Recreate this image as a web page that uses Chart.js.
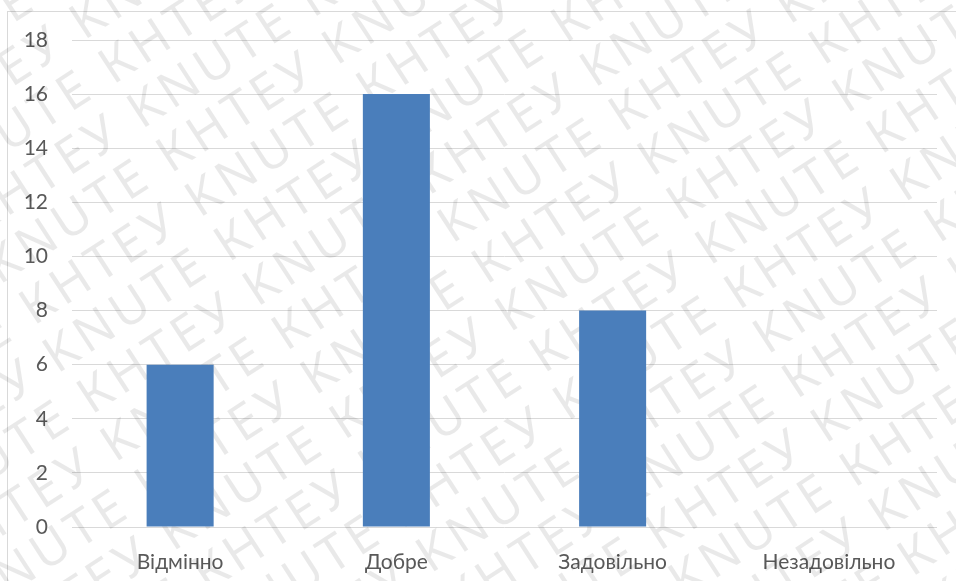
<!DOCTYPE html>
<html><head><meta charset="utf-8">
<script src="https://cdn.jsdelivr.net/npm/chart.js@4/dist/chart.umd.min.js"></script>
<style>html,body{margin:0;padding:0;background:#fff}#wrap{width:956px;height:581px}</style>
</head><body><div id="wrap"><canvas id="c" width="956" height="581"></canvas></div>
<script>
const categories = ['Відмінно', 'Добре', 'Задовільно', 'Незадовільно'];
const values = [6, 16, 8, 0];
const yTicks = [0, 2, 4, 6, 8, 10, 12, 14, 16, 18];
const watermarkWords = ['KNUTE', 'КНТЕУ'];

const bgPlugin = {
  id: 'bg',
  beforeDraw(chart) {
    const ctx = chart.ctx;
    ctx.save();
    ctx.fillStyle = '#fff';
    ctx.fillRect(0, 0, chart.width, chart.height);
    ctx.strokeStyle = '#d9d9d9';
    ctx.lineWidth = 1;
    ctx.strokeRect(7.5, 11.5, chart.width + 10, chart.height + 10);
    ctx.restore();
  },
  beforeDatasetsDraw(chart) {
    const ctx = chart.ctx;
    ctx.save();
    ctx.fillStyle = 'rgba(0,0,0,0.085)';
    ctx.font = '400 50px "Noto Sans"';
    if ('letterSpacing' in ctx) ctx.letterSpacing = '5px';
    ctx.textBaseline = 'alphabetic';
    ctx.translate(chart.width / 2, chart.height / 2);
    ctx.rotate(-33 * Math.PI / 180);
    const step = 53;
    const word0 = ctx.measureText(watermarkWords[0] + ' ').width;
    const word1 = ctx.measureText(watermarkWords[1] + ' ').width;
    const period = word0 + word1;
    for (let r = -12; r <= 12; r++) {
      const y = r * step;
      const off = (Math.abs(r) % 2 === 0) ? 0 : word0;
      for (let x = -1400 - off; x < 1400; x += period) {
        ctx.fillText(watermarkWords[0], x, y);
        ctx.fillText(watermarkWords[1], x + word0, y);
      }
    }
    ctx.restore();
  }
};

new Chart(document.getElementById('c'), {
  type: 'bar',
  data: {
    labels: categories,
    datasets: [{
      data: values,
      backgroundColor: '#4a7ebb',
      borderWidth: 0,
      barPercentage: 0.31,
      categoryPercentage: 1.0
    }]
  },
  plugins: [bgPlugin],
  options: {
    responsive: false,
    animation: false,
    devicePixelRatio: 1,
    layout: { padding: { top: 40, right: 19, left: 0, bottom: 0 } },
    plugins: { legend: { display: false }, tooltip: { enabled: false } },
    scales: {
      x: {
        grid: { display: false },
        border: { display: false },
        ticks: { color: '#595959', font: { family: 'Lato', size: 21 }, padding: 15 },
        afterFit(s) { s.height = 54; }
      },
      y: {
        min: 0, max: 18,
        afterBuildTicks(s) { s.ticks = yTicks.map(v => ({ value: v })); },
        grid: { color: '#d9d9d9', lineWidth: 1, drawTicks: false },
        border: { display: false },
        ticks: { color: '#595959', font: { family: 'Lato', size: 21 }, padding: 24 },
        afterFit(s) { s.width = 72; }
      }
    }
  }
});
</script></body></html>
